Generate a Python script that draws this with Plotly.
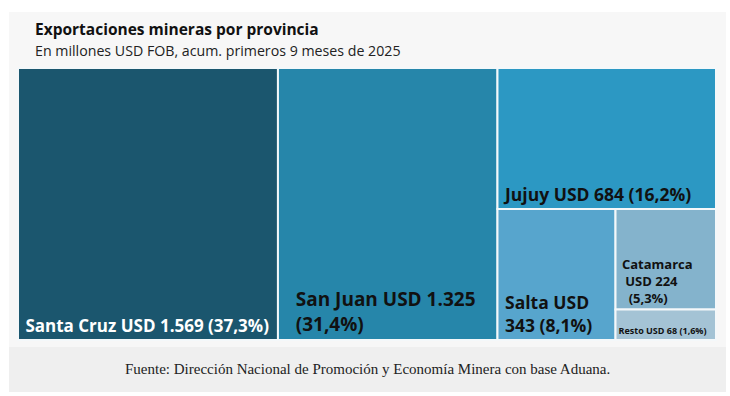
import plotly.graph_objects as go

# ---- data ----
provinces = ["Santa Cruz", "San Juan", "Jujuy", "Salta", "Catamarca", "Resto"]
values = [1569, 1325, 684, 343, 224, 68]
value_labels = ["1.569", "1.325", "684", "343", "224", "68"]
shares = ["37,3%", "31,4%", "16,2%", "8,1%", "5,3%", "1,6%"]
colors = ["#1b566e", "#2686aa", "#2c98c3", "#57a5cd", "#84b3cc", "#a4c3d5"]
# where each label wraps / indents (display only)
NB = "\u00a0"
label_templates = [
    NB + "{p} USD {v} ({s})",
    NB * 3 + "{p} USD {v}<br>" + NB * 3 + "({s})",
    NB + "{p} USD {v} ({s})",
    NB + "{p} USD<br>" + NB + "{v} ({s})",
    NB + "{p}<br>" + NB * 2 + "USD {v}<br>" + NB * 3 + "({s})",
    "{p} USD {v} ({s})",
]
text_sizes = [17, 19, 17.5, 17.5, 13, 9]
text_colors = ["#ffffff", "#111111", "#111111", "#111111", "#111111", "#111111"]

title = "Exportaciones mineras por provincia"
subtitle = "En millones USD FOB, acum. primeros 9 meses de 2025"
source = "Fuente: Dirección Nacional de Promoción y Economía Minera con base Aduana."

# ---- hierarchy (nested groups give the column / row split) ----
ids = ["root", "Santa Cruz", "San Juan", "g1", "Jujuy", "g2", "Salta", "g3", "Catamarca", "Resto"]
parents = ["", "root", "root", "root", "g1", "g1", "g2", "g2", "g3", "g3"]
val = dict(zip(provinces, values))
g3 = val["Catamarca"] + val["Resto"]
g2 = val["Salta"] + g3
g1 = val["Jujuy"] + g2
root = val["Santa Cruz"] + val["San Juan"] + g1
node_values = [root, val["Santa Cruz"], val["San Juan"], g1, val["Jujuy"], g2, val["Salta"], g3,
               val["Catamarca"], val["Resto"]]

idx = {p: i for i, p in enumerate(provinces)}
texts, fcolors, fsizes, mcolors, lwidths = [], [], [], [], []
for n in ids:
    if n in idx:
        i = idx[n]
        texts.append(label_templates[i].format(p=n, v=value_labels[i], s=shares[i]))
        fcolors.append(text_colors[i])
        fsizes.append(text_sizes[i])
        mcolors.append(colors[i])
        lwidths.append(2)
    else:
        texts.append("")
        fcolors.append("#111111")
        fsizes.append(10)
        mcolors.append("rgba(0,0,0,0)")
        lwidths.append(0)

W, H = 730, 396
fig = go.Figure(go.Treemap(
    ids=ids, labels=ids, parents=parents, values=node_values,
    branchvalues="total", sort=False,
    text=texts, textinfo="text", textposition="bottom left",
    textfont=dict(family="Open Sans", color=fcolors, size=fsizes, weight="bold"),
    marker=dict(colors=mcolors, line=dict(color="#f4f8fa", width=lwidths),
                pad=dict(t=0, l=0, r=0, b=0), depthfade=False),
    tiling=dict(packing="slice-dice", pad=0),
    pathbar=dict(visible=False),
    domain=dict(x=[18 / W, 716 / W], y=[1 - 340 / H, 1 - 68 / H]),
    hoverinfo="none",
))

fig.update_layout(
    width=W, height=H,
    margin=dict(l=0, r=0, t=0, b=0),
    paper_bgcolor="#ffffff",
    shapes=[
        dict(type="rect", xref="paper", yref="paper", x0=9 / W, x1=726 / W, y0=1 - 347 / H, y1=1 - 12 / H,
             fillcolor="#f7f7f7", line=dict(width=0), layer="below"),
        dict(type="rect", xref="paper", yref="paper", x0=9 / W, x1=726 / W, y0=1 - 392 / H, y1=1 - 347 / H,
             fillcolor="#efefef", line=dict(width=0), layer="below"),
    ],
    annotations=[
        dict(text="<b>" + title + "</b>", xref="paper", yref="paper", x=33 / W, y=1 - 16 / H,
             xanchor="left", yanchor="top", showarrow=False,
             font=dict(family="Open Sans", size=15.5, color="#111111")),
        dict(text=subtitle, xref="paper", yref="paper", x=33 / W, y=1 - 39 / H,
             xanchor="left", yanchor="top", showarrow=False,
             font=dict(family="Open Sans", size=14.2, color="#222222")),
        dict(text=source, xref="paper", yref="paper", x=367 / W, y=1 - 369 / H,
             xanchor="center", yanchor="middle", showarrow=False,
             font=dict(family="Liberation Serif", size=15, color="#222222")),
    ],
)

fig.write_html("out.html", config={"displayModeBar": False},
               post_script="document.body.style.margin='0';document.body.style.overflow='hidden';")
